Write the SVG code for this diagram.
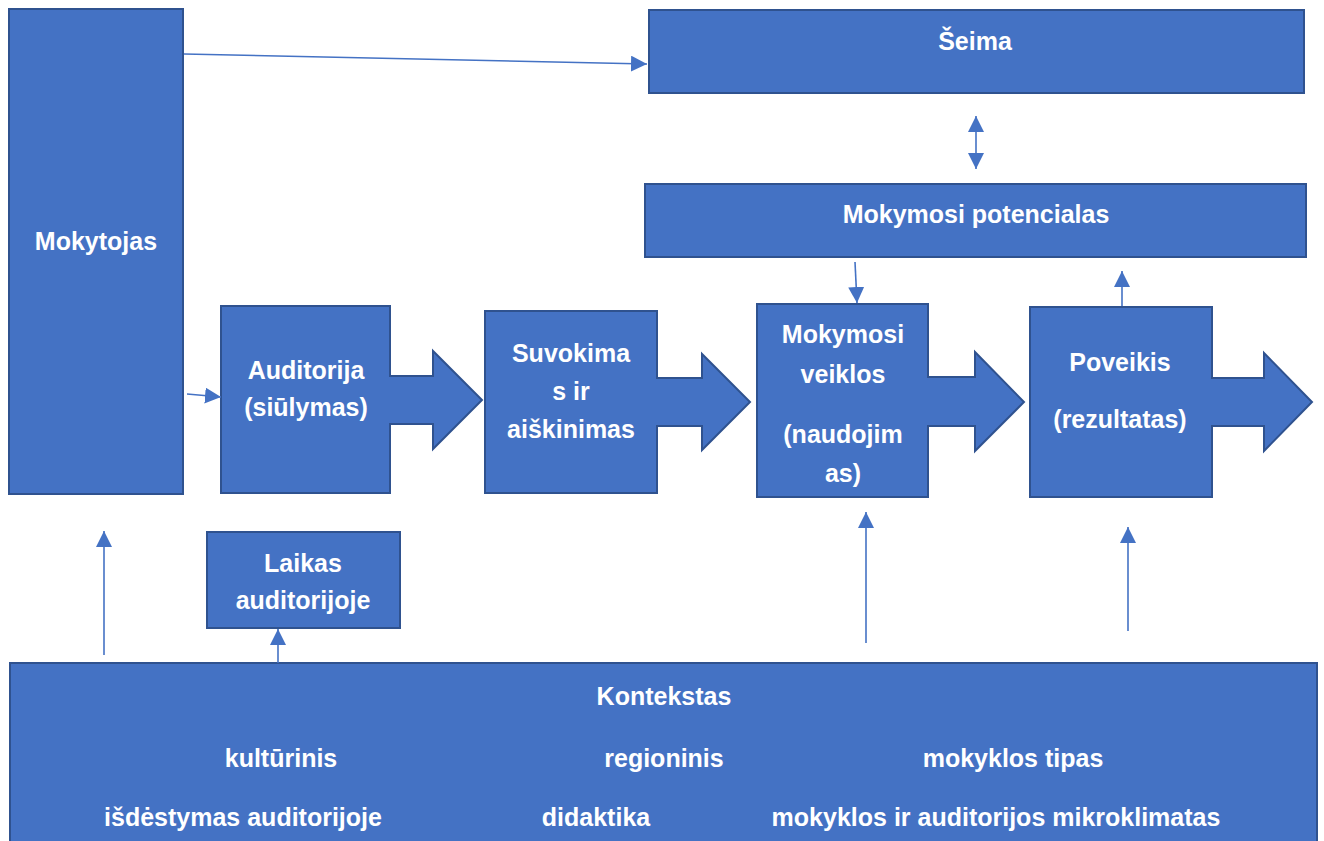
<svg xmlns="http://www.w3.org/2000/svg" width="1324" height="841" viewBox="0 0 1324 841">
<style>
.box{fill:#4472C4;stroke:#2F528F;stroke-width:2}
.t{font-family:"Liberation Sans",Arial,sans-serif;font-weight:bold;font-size:25px;fill:#FFFFFF;text-anchor:middle}
.c{stroke:#4472C4;stroke-width:1.6;fill:none}
</style>
<defs>
<marker id="ah" markerUnits="userSpaceOnUse" markerWidth="16" markerHeight="16" viewBox="0 0 16 16" refX="16" refY="8" orient="auto-start-reverse">
<path d="M0,0 L16,8 L0,16 Z" fill="#4472C4"/>
</marker>
</defs>
<rect width="1324" height="841" fill="#FFFFFF"/>
<g id="mokytojas"><rect class="box" x="9" y="9" width="174" height="485"/><text class="t" x="96" y="250">Mokytojas</text></g>
<g id="seima"><rect class="box" x="649" y="10" width="655" height="83"/><text class="t" x="975" y="50">Šeima</text></g>
<g id="potencialas"><rect class="box" x="645" y="184" width="661" height="73"/><text class="t" x="976" y="223">Mokymosi potencialas</text></g>
<g id="auditorija"><path class="box" d="M221,306 H390 V376 H433 V351 L482,400 L433,449 V424 H390 V493 H221 Z"/><text class="t" x="306" y="379">Auditorija</text><text class="t" x="306" y="416">(siūlymas)</text></g>
<g id="suvokimas"><path class="box" d="M485,311 H657 V378 H702 V354 L750,402 L702,450 V426 H657 V493 H485 Z"/><text class="t" x="571" y="362">Suvokima</text><text class="t" x="571" y="400">s ir</text><text class="t" x="571" y="438">aiškinimas</text></g>
<g id="veiklos"><path class="box" d="M757,304 H928 V377 H975 V352 L1024,402 L975,451 V426 H928 V497 H757 Z"/><text class="t" x="843" y="343">Mokymosi</text><text class="t" x="843" y="383">veiklos</text><text class="t" x="843" y="443">(naudojim</text><text class="t" x="843" y="482">as)</text></g>
<g id="poveikis"><path class="box" d="M1030,307 H1212 V378 H1264 V353 L1312,402 L1264,451 V426 H1212 V497 H1030 Z"/><text class="t" x="1120" y="371">Poveikis</text><text class="t" x="1120" y="428">(rezultatas)</text></g>
<g id="laikas"><rect class="box" x="207" y="532" width="193" height="96"/><text class="t" x="303" y="572">Laikas</text><text class="t" x="303" y="609">auditorijoje</text></g>
<g id="kontekstas"><rect class="box" x="10" y="663" width="1307" height="190"/>
<text class="t" x="664" y="705">Kontekstas</text>
<text class="t" x="281" y="767">kultūrinis</text>
<text class="t" x="664" y="767">regioninis</text>
<text class="t" x="1013" y="767">mokyklos tipas</text>
<text class="t" x="243" y="826">išdėstymas auditorijoje</text>
<text class="t" x="596" y="826">didaktika</text>
<text class="t" x="996" y="826">mokyklos ir auditorijos mikroklimatas</text>
</g>
<g id="connectors">
<line class="c" x1="184" y1="54" x2="647" y2="64" marker-end="url(#ah)"/>
<line class="c" x1="976" y1="116" x2="976" y2="169" marker-start="url(#ah)" marker-end="url(#ah)"/>
<line class="c" x1="855" y1="262" x2="857" y2="303" marker-end="url(#ah)"/>
<line class="c" x1="1122" y1="306" x2="1122" y2="271" marker-end="url(#ah)"/>
<line class="c" x1="187" y1="394" x2="221" y2="397" marker-end="url(#ah)"/>
<line class="c" x1="104" y1="655" x2="104" y2="531" marker-end="url(#ah)"/>
<line class="c" x1="278" y1="663" x2="278" y2="629" marker-end="url(#ah)"/>
<line class="c" x1="866" y1="643" x2="866" y2="512" marker-end="url(#ah)"/>
<line class="c" x1="1128" y1="631" x2="1128" y2="527" marker-end="url(#ah)"/>
</g>
</svg>
